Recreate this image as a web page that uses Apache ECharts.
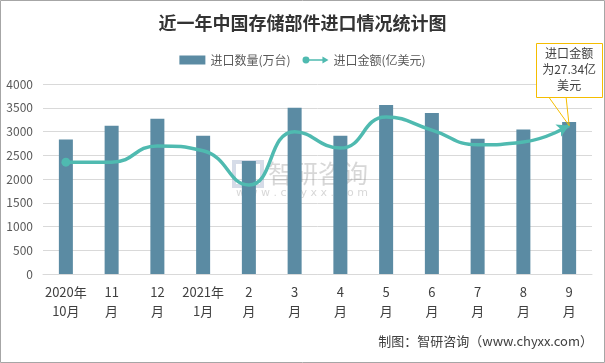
<!DOCTYPE html>
<html><head><meta charset="utf-8">
<script src="https://cdn.jsdelivr.net/npm/echarts@6/dist/echarts.min.js"></script>
<style>html,body{margin:0;padding:0;background:#fff}#c{width:605px;height:363px}</style>
</head><body><div id="c"></div>
<script>
var categories = ['2020年\n10月','11\n月','12\n月','2021年\n1月','2\n月','3\n月','4\n月','5\n月','6\n月','7\n月','8\n月','9\n月'];
var quantity = [2830, 3120, 3270, 2910, 2380, 3500, 2910, 3560, 3390, 2850, 3040, 3200];
var amount = [20.6, 20.6, 23.6, 22.7, 16.4, 26.2, 23.2, 28.9, 26.5, 23.8, 24.3, 27.34];
var yTicks = [0, 500, 1000, 1500, 2000, 2500, 3000, 3500, 4000];

var chart = echarts.init(document.getElementById('c'), null, {renderer: 'canvas'});
var last = amount.length - 1;
var lineData = amount.map(function (v, i) {
  if (i === 0) return {value: v, symbol: 'circle', symbolSize: 9};
  if (i === last) return {value: v, symbol: 'arrow', symbolSize: [10, 12], symbolRotate: -65};
  return {value: v, symbol: 'none'};
});

var baseGraphic = [
  {type: 'rect', shape: {x: 0.5, y: 0.5, width: 604, height: 362}, style: {fill: 'none', stroke: '#a6a6a6', lineWidth: 1}, z: 100},
  {type: 'text', left: 268, top: 161, style: {text: '智研咨询', fontSize: 25, fill: 'rgba(140,140,140,0.35)', fontFamily: 'Noto Sans CJK SC'}, z: 0},
  {type: 'text', left: 236, top: 188, style: {text: 'w w w . c h y x x . c o m', fontSize: 11, fill: 'rgba(140,140,140,0.35)', fontFamily: 'DejaVu Sans'}, z: 0},
  {type: 'rect', shape: {x: 234, y: 162, width: 28, height: 24}, style: {fill: 'none', stroke: 'rgba(120,140,180,0.3)', lineWidth: 4}, z: 0},
  {type: 'text', right: 12, top: 335, style: {text: '制图：智研咨询（www.chyxx.com）', fontSize: 13, fill: '#404040', fontFamily: 'Noto Sans CJK SC'}}
];

chart.setOption({
  animation: false,
  textStyle: {fontFamily: 'Noto Sans CJK SC'},
  title: {
    text: '近一年中国存储部件进口情况统计图', left: 'center', top: 9,
    textStyle: {fontSize: 18, fontWeight: 'bold', color: '#333', fontFamily: 'Noto Sans CJK SC'}
  },
  legend: {
    top: 49, left: 'center', itemGap: 12, itemWidth: 26, itemHeight: 9,
    textStyle: {fontSize: 12, color: '#595959'},
    data: [
      {name: '进口数量(万台)', icon: 'rect'},
      {name: '进口金额(亿美元)', icon: 'path://M0,5 A4,4 0 1,1 8,5 A4,4 0 1,1 0,5 Z M7,4 L24,4 L24,6 L7,6 Z M23,1 L30,5 L23,9 Z'}
    ]
  },
  grid: {left: 43, right: 13, top: 84, bottom: 89},
  xAxis: {
    type: 'category', data: categories,
    axisLine: {lineStyle: {color: '#d9d9d9'}}, axisTick: {show: false},
    axisLabel: {interval: 0, color: '#404040', fontSize: 13, lineHeight: 19, margin: 9}
  },
  yAxis: [{
    type: 'value', min: yTicks[0], max: yTicks[yTicks.length - 1], interval: 500,
    axisLine: {show: false}, axisTick: {show: false},
    axisLabel: {color: '#595959', fontSize: 12, margin: 10, formatter: function (v) { return String(v); }},
    splitLine: {lineStyle: {color: '#d9d9d9'}}
  }, {
    type: 'value', min: 0, max: 35, show: false, splitLine: {show: false}
  }],
  series: [{
    name: '进口数量(万台)', type: 'bar', data: quantity, barWidth: 14,
    itemStyle: {color: '#5B8BA3'}
  }, {
    name: '进口金额(亿美元)', type: 'line', yAxisIndex: 1, data: lineData,
    smooth: 0.5, symbol: 'circle', symbolSize: 9, showAllSymbol: true,
    lineStyle: {color: '#4FBAB0', width: 3.5},
    itemStyle: {color: '#4FBAB0'}
  }],
  graphic: baseGraphic
});

var pt = chart.convertToPixel({seriesIndex: 1}, [last, amount[last]]);
var boxW = 66, boxH = 54, boxCx = pt[0], boxBottom = pt[1] - 29;
chart.setOption({graphic: baseGraphic.concat([
  {type: 'rect', shape: {x: Math.round(boxCx - boxW / 2) + 0.5, y: Math.round(boxBottom - boxH) + 0.5, width: boxW, height: boxH},
   style: {fill: '#fff', stroke: '#F5BD00', lineWidth: 1}, z: 60},
  {type: 'text', x: boxCx, y: boxBottom - boxH / 2, z: 61,
   style: {text: '进口金额\n为' + amount[last] + '亿\n美元', align: 'center', verticalAlign: 'middle',
           fontSize: 12, lineHeight: 16, fill: '#404040', fontFamily: 'Noto Sans CJK SC'}},
  {type: 'polyline', shape: {points: [[pt[0] - 20, boxBottom + 1], [pt[0], pt[1]], [pt[0] - 3, boxBottom + 1]]}, style: {fill: 'none', stroke: '#F5BD00', lineWidth: 1}, z: 50}
])}, {replaceMerge: ['graphic']});
</script></body></html>
